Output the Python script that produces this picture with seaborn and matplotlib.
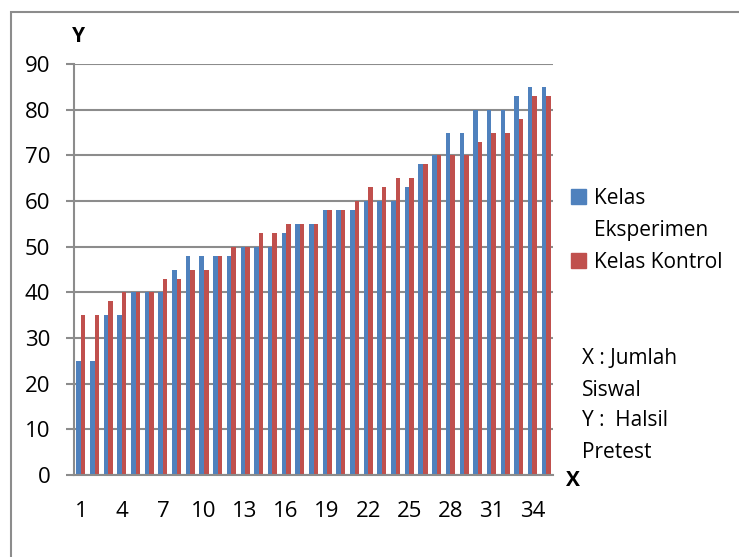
"""Pretest scores per student: experiment class vs control class."""
import numpy as np
import pandas as pd
import matplotlib
matplotlib.use("Agg")
import matplotlib.pyplot as plt
import seaborn as sns
from matplotlib.patches import Patch, Rectangle

# --- data ---
siswa = list(range(1, 36))
eksperimen = [25, 25, 35, 35, 40, 40, 40, 45, 48, 48,
              48, 48, 50, 50, 50, 53, 55, 55, 58, 58,
              58, 60, 60, 60, 63, 68, 70, 75, 75, 80,
              80, 80, 83, 85, 85]
kontrol = [35, 35, 38, 40, 40, 40, 43, 43, 45, 45,
           48, 50, 50, 53, 53, 55, 55, 55, 58, 58,
           60, 63, 63, 65, 65, 68, 70, 70, 70, 73,
           75, 75, 78, 83, 83]
kelas = ["Kelas Eksperimen", "Kelas Kontrol"]
warna = ["#4F81BD", "#C0504D"]
y_ticks = list(range(0, 100, 10))
x_labels = [str(i) for i in range(1, 36, 3)]
catatan = ["X : Jumlah", "Siswal", "Y :  Halsil", "Pretest"]

df = pd.DataFrame({
    "siswa": siswa * 2,
    "nilai": eksperimen + kontrol,
    "kelas": [kelas[0]] * len(siswa) + [kelas[1]] * len(siswa),
})

sns.set_style("white")
plt.rcParams["font.family"] = ["Open Sans", "DejaVu Sans"]
plt.rcParams["text.color"] = "black"
GREY = "#8c8c8c"
FS_TICK = 16
FS = 15

W, H = 739, 557
fig = plt.figure(figsize=(W / 100, H / 100), dpi=100)
ax = fig.add_axes([74 / W, 1 - 475 / H, (553 - 74) / W, (475 - 64) / H])

sns.barplot(data=df, x="siswa", y="nilai", hue="kelas", palette=warna,
            width=0.66, saturation=1, legend=False, linewidth=0, ax=ax)

ax.set_xlim(-0.5, 34.5)
ax.set_ylim(0, 90)
ax.set_yticks(y_ticks)
ax.set_xticks(range(0, 35, 3))
ax.set_xticklabels(x_labels)
ax.set_xticks(np.arange(-0.5, 35, 1), minor=True)
ax.set_xlabel("")
ax.set_ylabel("")

ax.tick_params(axis="x", which="major", length=0, pad=19, labelsize=FS_TICK, labelcolor="black")
ax.tick_params(axis="x", which="minor", length=5, width=1.5, color=GREY, direction="out")
ax.tick_params(axis="y", length=6, width=1.5, color=GREY, pad=11, labelsize=FS_TICK,
               labelcolor="black", left=True)

ax.yaxis.grid(True, color=GREY, lw=1.5)
ax.set_axisbelow(True)
for side in ["top", "right"]:
    ax.spines[side].set_visible(False)
for side in ["left", "bottom"]:
    ax.spines[side].set_color(GREY)
    ax.spines[side].set_linewidth(1.5)

# axis letters
fig.text(79 / W, 1 - 37 / H, "Y", fontsize=FS, fontweight="bold", ha="center", va="center")
fig.text(573 / W, 1 - 480 / H, "X", fontsize=FS, fontweight="bold", ha="center", va="center")

# legend: split first label over two rows like the original
handles = [Patch(color=warna[0]), Patch(color="none"), Patch(color=warna[1])]
labels = ["Kelas", "Eksperimen", "Kelas Kontrol"]
fig.legend(handles, labels, loc="upper left", bbox_to_anchor=(571 / W, 1 - 188 / H),
           frameon=False, fontsize=FS, handlelength=0.7, handleheight=0.7,
           handletextpad=0.4, labelspacing=0.52, borderpad=0, borderaxespad=0)

# note block on the right
for i, line in enumerate(catatan):
    fig.text(582 / W, 1 - (359 + 31 * i) / H, line, fontsize=FS, ha="left", va="center")

# chart area border (runs off the right and bottom edges)
fig.add_artist(Rectangle((11 / W, -0.5), 2, 1.5 - 12 / H, transform=fig.transFigure,
                         fill=False, edgecolor=GREY, lw=1.5))

fig.savefig("out.png", dpi=100)
